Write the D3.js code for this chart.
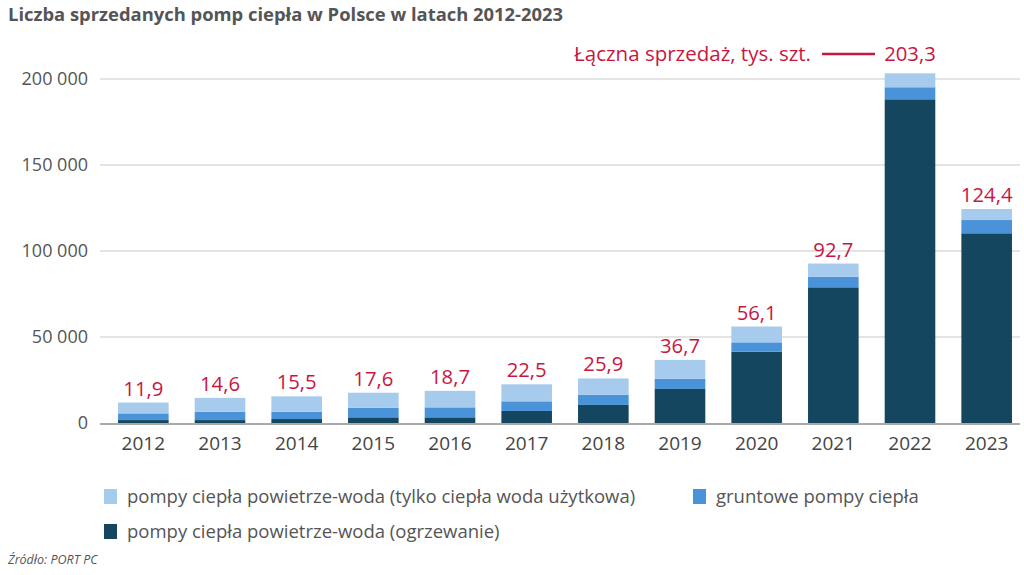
<!DOCTYPE html>
<html><head><meta charset="utf-8">
<script src="https://cdn.jsdelivr.net/npm/d3@7"></script>
<style>body{margin:0;background:#fff;}svg{display:block;font-family:"Open Sans",Lato,sans-serif;}</style>
</head><body>
<svg id="c" width="1024" height="575"></svg>
<script>
const years = ["2012","2013","2014","2015","2016","2017","2018","2019","2020","2021","2022","2023"];
const heating = [1.7,1.7,2.3,3.3,3.3,7.0,10.5,19.8,41.5,78.9,188.2,110.3];
const ground = [3.9,4.8,4.3,5.6,5.8,5.6,6.0,6.0,5.4,6.2,7.0,7.7];
const totals = [11.9,14.6,15.5,17.6,18.7,22.5,25.9,36.7,56.1,92.7,203.3,124.4];
const dhw = totals.map((t,i)=>+(t-heating[i]-ground[i]).toFixed(1));
const totalLabels = ["11,9","14,6","15,5","17,6","18,7","22,5","25,9","36,7","56,1","92,7","203,3","124,4"];
const yTicks = [0,50000,100000,150000,200000];
const tickLabels = ["0","50 000","100 000","150 000","200 000"];
const seriesNames = ["pompy ciepła powietrze-woda (tylko ciepła woda użytkowa)","gruntowe pompy ciepła","pompy ciepła powietrze-woda (ogrzewanie)"];

const FONT = "'Open Sans',Lato,sans-serif";
const svg = d3.select("#c");
const x = d3.scaleBand().domain(years).range([105,1025]).paddingInner(0.34).paddingOuter(0.17);
const y = d3.scaleLinear().domain([0,200000]).range([423,79]);

svg.append("text").attr("x",8).attr("y",21).text("Liczba sprzedanych pomp ciepła w Polsce w latach 2012-2023")
  .attr("font-size",18.4).attr("font-weight","bold").attr("fill","#555");

// grid
const grid = svg.append("g");
yTicks.slice(1).forEach(t=>{
  grid.append("line").attr("x1",100).attr("x2",1020).attr("y1",y(t)).attr("y2",y(t)).attr("stroke","#e3e3e3").attr("stroke-width",2);
});
const yAxis = d3.axisLeft(y).tickValues(yTicks).tickFormat((d,i)=>tickLabels[i]).tickSize(0).tickPadding(0);
const ga = svg.append("g").attr("transform","translate(88,0)").call(yAxis);
ga.select(".domain").remove();
ga.selectAll("text").attr("font-size",18).attr("fill","#555").attr("font-family",FONT);

const stackData = years.map((yr,i)=>({year:yr, heating:heating[i]*1000, ground:ground[i]*1000, dhw:dhw[i]*1000}));
const keys = ["heating","ground","dhw"];
const colors = {heating:"#14475f", ground:"#4b93d8", dhw:"#a6cbec"};
const stacked = d3.stack().keys(keys)(stackData);
svg.append("g").selectAll("g").data(stacked).join("g").attr("fill",d=>colors[d.key])
  .selectAll("rect").data(d=>d).join("rect")
  .attr("x",d=>x(d.data.year)).attr("width",x.bandwidth())
  .attr("y",d=>y(d[1])).attr("height",d=>y(d[0])-y(d[1]));

// baseline
svg.append("line").attr("x1",100).attr("x2",1020).attr("y1",y(0)+1).attr("y2",y(0)+1).attr("stroke","#aaa").attr("stroke-width",2);

// x labels
const xAxis = d3.axisBottom(x).tickSize(0).tickPadding(0);
const gx = svg.append("g").attr("transform","translate(0,450)").call(xAxis);
gx.select(".domain").remove();
gx.selectAll("text").attr("font-size",19).attr("fill","#444").attr("dy",0).attr("font-family",FONT);

// total labels
const red = "#c8173f";
svg.append("g").selectAll("text").data(years).join("text")
  .attr("x",d=>x(d)+x.bandwidth()/2)
  .attr("y",(d,i)=> i===10 ? 61 : y(totals[i]*1000)-7)
  .attr("text-anchor","middle").attr("font-size",20.3).attr("fill",red)
  .text((d,i)=>totalLabels[i]);

// annotation
svg.append("text").attr("x",811).attr("y",61).attr("text-anchor","end").attr("font-size",20.5).attr("fill",red)
  .text("Łączna sprzedaż, tys. szt.");
svg.append("line").attr("x1",822).attr("x2",875).attr("y1",54).attr("y2",54).attr("stroke",red).attr("stroke-width",2.5);

// legend
const leg = [{k:"dhw",x:104,y:489,t:seriesNames[0]},{k:"ground",x:693,y:489,t:seriesNames[1]},{k:"heating",x:104,y:524,t:seriesNames[2]}];
const lg = svg.append("g");
leg.forEach(l=>{
  lg.append("rect").attr("x",l.x).attr("y",l.y).attr("width",13).attr("height",15).attr("fill",colors[l.k]);
  lg.append("text").attr("x",l.x+23).attr("y",l.y+14).attr("font-size",18.5).attr("fill","#555").text(l.t);
});

svg.append("text").attr("x",8).attr("y",564).attr("font-size",12.5).attr("font-style","italic").attr("fill","#555").text("Źródło: PORT PC");
</script>
</body></html>
